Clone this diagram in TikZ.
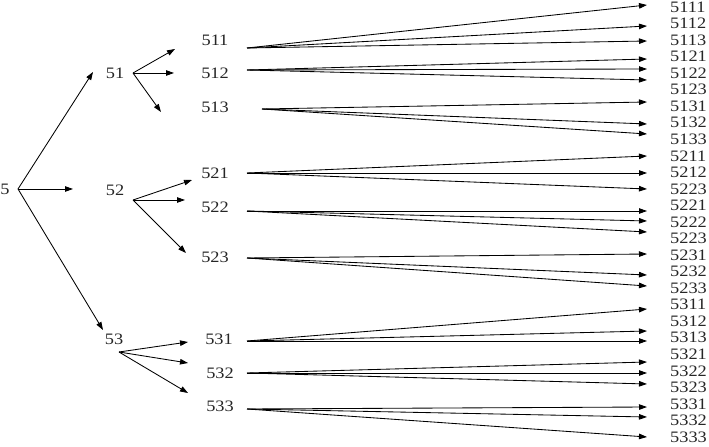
\documentclass[tikz,border=0pt]{standalone}
\usepackage{fontspec}
\setmainfont[FakeStretch=1.15]{Liberation Serif}
\usetikzlibrary{arrows.meta}
\begin{document}
\begin{tikzpicture}[x=1bp,y=-1bp,
  lbl/.style={inner sep=0pt, text=black!85, font=\fontsize{16}{16}\selectfont},
  rlbl/.style={lbl, anchor=west},
  arr/.style={draw=black, line width=0.85bp, -{Triangle[length=8bp,width=5.5bp]}}]
\useasboundingbox (0,0) rectangle (709,447);
% level 0 and 1
\node[lbl] (n5) at (5,189) {5};
\coordinate (a5) at (18,189);
\node[lbl] (n51) at (115,73) {51};
\node[lbl] (n52) at (115,190) {52};
\node[lbl] (n53) at (114,339) {53};
\coordinate (t51) at (93,72);
\coordinate (t52) at (73,189);
\coordinate (t53) at (103,330);
\draw[arr] (a5) -- (t51);
\draw[arr] (a5) -- (t52);
\draw[arr] (a5) -- (t53);
% level 2 labels
\node[lbl] (n511) at (215,40) {511};
\node[lbl] (n512) at (215,73) {512};
\node[lbl] (n513) at (215,107) {513};
\node[lbl] (n521) at (215,173) {521};
\node[lbl] (n522) at (215,207) {522};
\node[lbl] (n523) at (215,257) {523};
\node[lbl] (n531) at (219,339) {531};
\node[lbl] (n532) at (220,373) {532};
\node[lbl] (n533) at (220,406) {533};
% apexes
\coordinate (a51) at (133,73);
\coordinate (a52) at (133,200);
\coordinate (a53) at (119,352);
\coordinate (t511) at (175,49);  \coordinate (t512) at (174,73);  \coordinate (t513) at (161,112);
\coordinate (t521) at (192,180); \coordinate (t522) at (185,200); \coordinate (t523) at (186,253);
\coordinate (t531) at (188,342); \coordinate (t532) at (188,363); \coordinate (t533) at (188,393);
\foreach \p in {51,52,53}
  \foreach \k in {1,2,3}
    \draw[arr] (a\p) -- (t\p\k);
% level 3 starts
\coordinate (s511) at (247,48);
\coordinate (s512) at (247,70);
\coordinate (s513) at (262,109);
\coordinate (s521) at (247,173);
\coordinate (s522) at (247,211);
\coordinate (s523) at (247,258);
\coordinate (s531) at (247,341);
\coordinate (s532) at (247,373);
\coordinate (s533) at (247,409);
% ends
\foreach \y [count=\i] in {5,26,41,59,69,80,102,124,134,156,173,189,211,221,232,254,275,286,309,331,341,362,373,384,407,417,437}
  \coordinate (e\i) at (647,\y);
% right labels
\foreach \t [count=\i] in {5111,5112,5113,5121,5122,5123,5131,5132,5133,5211,5212,5223,5221,5222,5223,5231,5232,5233,5311,5312,5313,5321,5322,5323,5331,5332,5333}
  \node[rlbl] (l\i) at (670,{7+(\i-1)*16.54}) {\t};
\foreach \s/\a/\b/\c in {511/1/2/3,512/4/5/6,513/7/8/9,521/10/11/12,522/13/14/15,523/16/17/18,531/19/20/21,532/22/23/24,533/25/26/27}{
  \draw[arr] (s\s) -- (e\a);
  \draw[arr] (s\s) -- (e\b);
  \draw[arr] (s\s) -- (e\c);
}
\end{tikzpicture}
\end{document}
